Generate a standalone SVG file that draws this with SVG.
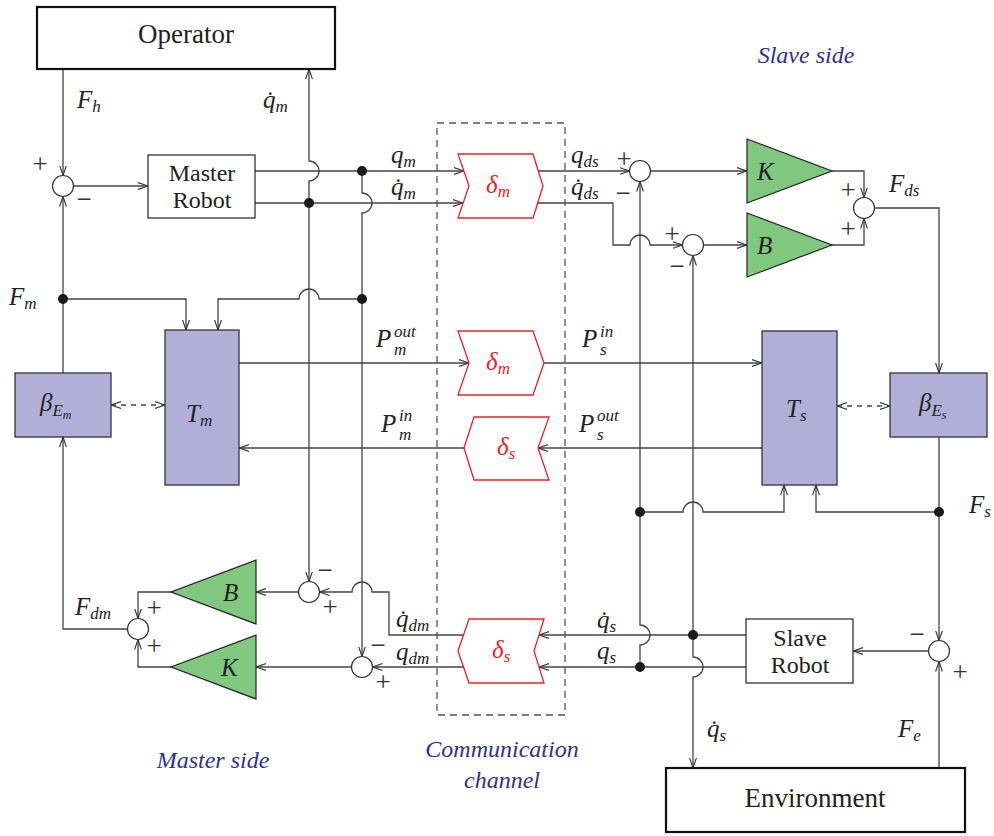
<svg xmlns="http://www.w3.org/2000/svg" width="994" height="836" viewBox="0 0 994 836">
<defs>
<marker id="a" viewBox="0 0 10 8" refX="10" refY="4" markerWidth="10" markerHeight="8" orient="auto-start-reverse" markerUnits="userSpaceOnUse"><path d="M0,0.6 L10,4 L0,7.4" fill="none" stroke="#333" stroke-width="1.1"/></marker>
</defs>
<style>
.ln{fill:none;stroke:#444;stroke-width:1.3}
.ar{marker-end:url(#a)}
.box{fill:#fff;stroke:#333;stroke-width:1.3}
.big{fill:#fff;stroke:#111;stroke-width:2.2}
.lav{fill:#b1afd7;stroke:#333;stroke-width:1.3}
.tri{fill:#80c77f;stroke:#222;stroke-width:1.2}
.del{fill:#fff;stroke:#ee2222;stroke-width:1.3}
.sum{fill:#fff;stroke:#333;stroke-width:1.2}
.dot{fill:#1a1a1a}
.t{font-family:"Liberation Serif","DejaVu Serif",serif;font-size:27px;fill:#222;text-anchor:middle}
.t2{font-size:24px}
.m{font-family:"Liberation Serif","DejaVu Serif",serif;font-style:italic;font-size:25px;fill:#222}
.s{font-size:17px}
.r{fill:#ee2222}
.sg{font-family:"Liberation Serif","DejaVu Serif",serif;font-size:27px;fill:#333;text-anchor:middle;dominant-baseline:central}
.bl{font-family:"Liberation Serif","DejaVu Serif",serif;font-style:italic;font-size:24px;fill:#2e3192;text-anchor:middle}
</style>

<g id="channel"><rect x="437" y="123" width="128" height="592" fill="none" stroke="#555" stroke-width="1.3" stroke-dasharray="7,5"/></g>

<g id="connectors">
<path class="ln ar" d="M63,69 L63,175.5"/>
<path class="ln ar" d="M73.5,186 L148,186"/>
<path class="ln ar" d="M255,171 L464,171"/>
<path class="ln ar" d="M255,203 L463,203"/>
<path class="ln ar" d="M309,203 L309,181 A10,10 0 0 0 309,161 L309,69"/>
<path class="ln ar" d="M309,203 L309,581.5"/>
<path class="ln ar" d="M362,171 L362,193 A10,10 0 0 1 362,213 L362,656.5"/>
<path class="ln ar" d="M63,373 L63,196.5"/>
<path class="ln ar" d="M63,299 L186,299 L186,330"/>
<path class="ln ar" d="M362,299 L319,299 A10,10 0 0 0 299,299 L218,299 L218,330"/>
<path class="ln ar" d="M239,363 L469,363"/>
<path class="ln ar" d="M544,363 L762,363"/>
<path class="ln ar" d="M762,448 L538,448"/>
<path class="ln ar" d="M464,448 L239,448"/>
<path class="ln" d="M111,405 L165,405" stroke-dasharray="5,5" marker-start="url(#a)" marker-end="url(#a)"/>
<path class="ln" d="M837,406 L890,406" stroke-dasharray="5,5" marker-start="url(#a)" marker-end="url(#a)"/>
<path class="ln ar" d="M538,171 L629.5,171"/>
<path class="ln ar" d="M538,203 L613,203 L613,245 L630,245 A10,10 0 0 1 650,245 L682.5,245"/>
<path class="ln ar" d="M650.5,171 L747,171"/>
<path class="ln ar" d="M703.5,245 L747,245"/>
<path class="ln ar" d="M832,171 L864,171 L864,197.5"/>
<path class="ln ar" d="M832,245 L864,245 L864,218.5"/>
<path class="ln ar" d="M874.5,208 L939,208 L939,373"/>
<path class="ln ar" d="M939,437 L939,640.5"/>
<path class="ln ar" d="M939,512 L816,512 L816,485"/>
<path class="ln ar" d="M640,512 L683,512 A10,10 0 0 1 703,512 L784,512 L784,485"/>
<path class="ln ar" d="M640,667 L640,645 A10,10 0 0 0 640,625 L640,181.5"/>
<path class="ln ar" d="M693,635 L693,255.5"/>
<path class="ln ar" d="M693,635 L693,657 A10,10 0 0 1 693,677 L693,768"/>
<path class="ln ar" d="M928.5,651 L853,651"/>
<path class="ln ar" d="M939,768 L939,661.5"/>
<path class="ln ar" d="M746,635 L539,635"/>
<path class="ln ar" d="M746,667 L539,667"/>
<path class="ln ar" d="M463.5,635 L389,635 L389,592 L372,592 A10,10 0 0 0 352,592 L319.5,592"/>
<path class="ln ar" d="M463.5,667 L372.5,667"/>
<path class="ln ar" d="M298.5,592 L256,592"/>
<path class="ln ar" d="M351.5,667 L256,667"/>
<path class="ln ar" d="M171,592 L138,592 L138,618.5"/>
<path class="ln ar" d="M171,667 L138,667 L138,639.5"/>
<path class="ln ar" d="M127.5,629 L63,629 L63,437"/>
<circle class="dot" cx="309" cy="203" r="5"/>
<circle class="dot" cx="362" cy="171" r="5"/>
<circle class="dot" cx="362" cy="299" r="5"/>
<circle class="dot" cx="63" cy="299" r="5"/>
<circle class="dot" cx="640" cy="512" r="5"/>
<circle class="dot" cx="939" cy="512" r="5"/>
<circle class="dot" cx="693" cy="635" r="5"/>
<circle class="dot" cx="640" cy="667" r="5"/>
</g>

<g id="operator"><rect class="big" x="37" y="7" width="298" height="62"/><text class="t" x="186" y="43">Operator</text></g>
<g id="master-robot"><rect class="box" x="148" y="155" width="107" height="63"/><text class="t t2" x="202" y="181">Master</text><text class="t t2" x="202" y="208">Robot</text></g>
<g id="slave-robot"><rect class="box" x="746" y="619" width="107" height="64"/><text class="t t2" x="800" y="646">Slave</text><text class="t t2" x="800" y="673">Robot</text></g>
<g id="environment"><rect class="big" x="666" y="768" width="299" height="64"/><text class="t" x="815" y="807">Environment</text></g>

<g id="sum-master-in"><circle class="sum" cx="63" cy="186" r="10.5"/><text class="sg" x="40" y="164">+</text><text class="sg" x="84" y="199">−</text></g>
<g id="sum-qs"><circle class="sum" cx="640" cy="171" r="10.5"/><text class="sg" x="624" y="159">+</text><text class="sg" x="623" y="193">−</text></g>
<g id="sum-qds"><circle class="sum" cx="693" cy="245" r="10.5"/><text class="sg" x="672" y="234">+</text><text class="sg" x="677" y="266">−</text></g>
<g id="sum-fds"><circle class="sum" cx="864" cy="208" r="10.5"/><text class="sg" x="848" y="190">+</text><text class="sg" x="848" y="229">+</text></g>
<g id="sum-qdm-dot"><circle class="sum" cx="309" cy="592" r="10.5"/><text class="sg" x="325" y="570">−</text><text class="sg" x="330" y="607">+</text></g>
<g id="sum-qdm"><circle class="sum" cx="362" cy="667" r="10.5"/><text class="sg" x="378" y="645">−</text><text class="sg" x="383" y="682">+</text></g>
<g id="sum-fdm"><circle class="sum" cx="138" cy="629" r="10.5"/><text class="sg" x="154" y="608">+</text><text class="sg" x="154" y="646">+</text></g>
<g id="sum-slave"><circle class="sum" cx="939" cy="651" r="10.5"/><text class="sg" x="917" y="634">−</text><text class="sg" x="960" y="672">+</text></g>

<g id="K-slave"><path class="tri" d="M747,139 L832,171 L747,203 Z"/><text class="m" x="757" y="180" font-size="27">K</text></g>
<g id="B-slave"><path class="tri" d="M747,213 L832,245 L747,277 Z"/><text class="m" x="757" y="254" font-size="27">B</text></g>
<g id="B-master"><path class="tri" d="M256,560 L171,592 L256,624 Z"/><text class="m" x="223" y="601" font-size="27">B</text></g>
<g id="K-master"><path class="tri" d="M256,635 L171,667 L256,699 Z"/><text class="m" x="221" y="676" font-size="27">K</text></g>

<g id="Tm"><rect class="lav" x="165" y="330" width="74" height="155"/><text class="m" x="186" y="422" font-size="27">T<tspan class="s" dy="4">m</tspan></text></g>
<g id="Ts"><rect class="lav" x="762" y="331" width="75" height="154"/><text class="m" x="786" y="417" font-size="27">T<tspan class="s" dy="4">s</tspan></text></g>
<g id="beta-Em"><rect class="lav" x="15" y="373" width="96" height="64"/><text class="m" x="40" y="411" font-size="27">β<tspan class="s" dy="5">E</tspan><tspan font-size="12" dy="3">m</tspan></text></g>
<g id="beta-Es"><rect class="lav" x="890" y="373" width="97" height="64"/><text class="m" x="919" y="411" font-size="27">β<tspan class="s" dy="5">E</tspan><tspan font-size="12" dy="3">s</tspan></text></g>

<g id="delay-m-top"><path class="del" d="M458,154 L533,154 L543,186 L533,218 L458,218 L469,186 Z"/><text class="m r" x="486" y="193" font-size="27">δ<tspan class="s" dy="4">m</tspan></text></g>
<g id="delay-m-mid"><path class="del" d="M458,331 L533,331 L544,363 L533,395 L458,395 L469,363 Z"/><text class="m r" x="486" y="370" font-size="27">δ<tspan class="s" dy="4">m</tspan></text></g>
<g id="delay-s-mid"><path class="del" d="M474,417 L549,417 L538,448 L549,480 L474,480 L464,448 Z"/><text class="m r" x="497" y="455" font-size="27">δ<tspan class="s" dy="4">s</tspan></text></g>
<g id="delay-s-bot"><path class="del" d="M469,619 L544,619 L534,651 L544,683 L469,683 L458,651 Z"/><text class="m r" x="492" y="658" font-size="27">δ<tspan class="s" dy="4">s</tspan></text></g>

<g id="labels">
<text class="m" x="77" y="108">F<tspan class="s" dy="4">h</tspan></text>
<text class="m" x="263" y="108">q̇<tspan class="s" dy="4">m</tspan></text>
<text class="m" x="391" y="163">q<tspan class="s" dy="4">m</tspan></text>
<text class="m" x="391" y="195">q̇<tspan class="s" dy="4">m</tspan></text>
<text class="m" x="571" y="163">q<tspan class="s" dy="4">ds</tspan></text>
<text class="m" x="571" y="195">q̇<tspan class="s" dy="4">ds</tspan></text>
<text class="m" x="889" y="192">F<tspan class="s" dy="4">ds</tspan></text>
<text class="m" x="9" y="305">F<tspan class="s" dy="4">m</tspan></text>
<text class="m" x="376" y="347">P</text><text class="m s" x="394" y="337">out</text><text class="m s" x="394" y="355">m</text>
<text class="m" x="582" y="347">P</text><text class="m s" x="600" y="337">in</text><text class="m s" x="600" y="355">s</text>
<text class="m" x="381" y="432">P</text><text class="m s" x="399" y="421">in</text><text class="m s" x="399" y="440">m</text>
<text class="m" x="579" y="432">P</text><text class="m s" x="597" y="421">out</text><text class="m s" x="597" y="440">s</text>
<text class="m" x="969" y="513">F<tspan class="s" dy="4">s</tspan></text>
<text class="m" x="75" y="615">F<tspan class="s" dy="4">dm</tspan></text>
<text class="m" x="396" y="627">q̇<tspan class="s" dy="4">dm</tspan></text>
<text class="m" x="396" y="660">q<tspan class="s" dy="4">dm</tspan></text>
<text class="m" x="597" y="628">q̇<tspan class="s" dy="4">s</tspan></text>
<text class="m" x="597" y="659">q<tspan class="s" dy="4">s</tspan></text>
<text class="m" x="707" y="737">q̇<tspan class="s" dy="4">s</tspan></text>
<text class="m" x="898" y="737">F<tspan class="s" dy="4">e</tspan></text>
<text class="bl" x="806" y="63">Slave side</text>
<text class="bl" x="213" y="768">Master side</text>
<text class="bl" x="502" y="757">Communication</text>
<text class="bl" x="502" y="788">channel</text>
</g>
</svg>
